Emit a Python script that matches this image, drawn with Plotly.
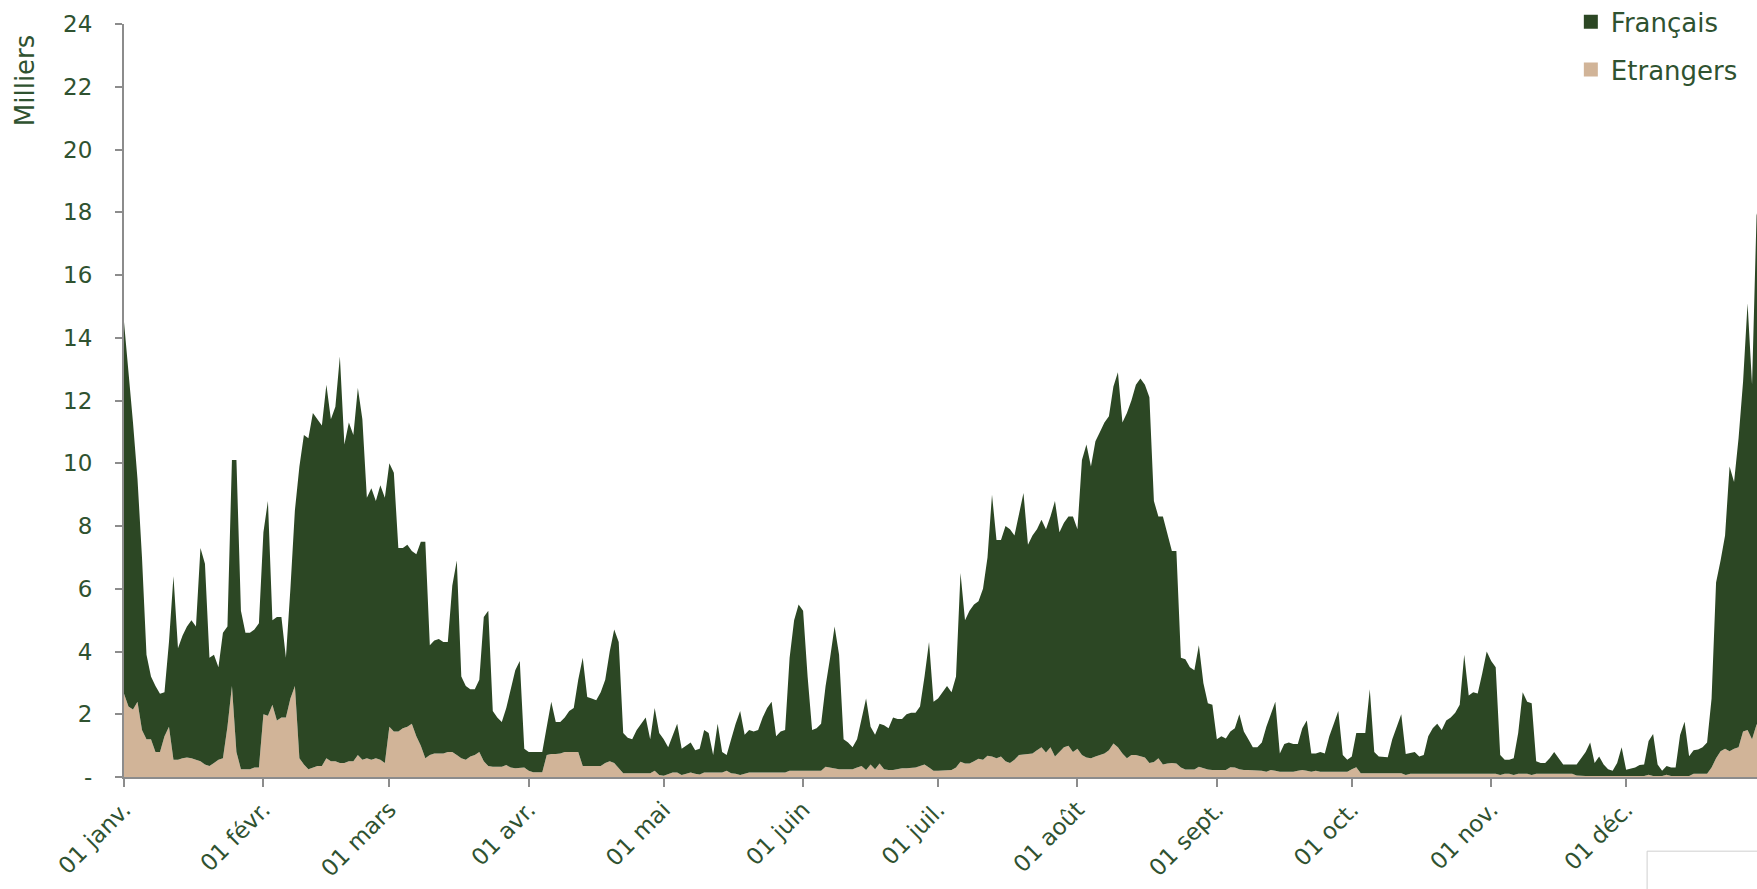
import pandas as pd
import plotly.graph_objects as go

# ---- data (milliers), one value per day of the year ----
francais = [
    11.85, 10.75, 9.15, 7.1, 5.5, 2.7, 2.0, 2.1, 1.85, 1.4,
    2.7, 5.85, 3.55, 3.9, 4.18, 4.4, 4.25, 6.8, 6.4, 3.45,
    3.45, 2.95, 4.0, 3.2, 7.2, 9.3, 5.05, 4.35, 4.35, 4.4,
    4.6, 5.8, 6.85, 2.7, 3.3, 3.2, 1.9, 3.5, 5.6, 9.3,
    10.5, 10.55, 11.3, 11.05, 10.85, 11.9, 10.9, 11.3, 12.95, 10.15,
    10.8, 10.4, 11.7, 10.85, 8.3, 8.65, 8.2, 8.75, 8.45, 8.4,
    8.25, 5.85, 5.75, 5.8, 5.5, 5.8, 6.5, 6.9, 3.5, 3.6,
    3.65, 3.55, 3.5, 5.3, 6.2, 2.6, 2.35, 2.15, 2.1, 2.3,
    4.6, 4.95, 1.77, 1.57, 1.42, 1.82, 2.5, 3.12, 3.42, 0.6,
    0.6, 0.65, 0.65, 0.65, 0.9, 1.67, 1.02, 1.0, 1.1, 1.3,
    1.4, 2.3, 3.45, 2.2, 2.15, 2.1, 2.35, 2.65, 3.5, 4.25,
    4.0, 1.28, 1.13, 1.08, 1.38, 1.58, 1.78, 1.08, 2.0, 1.34,
    1.16, 0.85, 1.16, 1.56, 0.84, 0.9, 0.96, 0.75, 0.82, 1.36,
    1.26, 0.56, 1.56, 0.66, 0.5, 1.08, 1.6, 2.04, 1.25, 1.36,
    1.31, 1.36, 1.76, 2.06, 2.26, 1.16, 1.31, 1.36, 3.6, 4.8,
    5.3, 5.1, 3.0, 1.3, 1.35, 1.5, 2.57, 3.5, 4.52, 3.65,
    0.95, 0.85, 0.7, 0.9, 1.55, 2.28, 1.2, 1.1, 1.27, 1.4,
    1.33, 1.68, 1.6, 1.57, 1.72, 1.75, 1.75, 1.9, 2.8, 4.0,
    2.2, 2.3, 2.5, 2.7, 2.48, 2.9, 6.01, 4.57, 4.87, 5.0,
    5.02, 5.45, 6.32, 8.35, 6.95, 6.9, 7.5, 7.45, 7.15, 7.7,
    8.33, 6.67, 6.95, 7.05, 7.25, 7.12, 7.35, 8.15, 7.0, 7.15,
    7.3, 7.5, 7.0, 9.4, 9.98, 9.3, 10.05, 10.3, 10.55, 10.65,
    11.38, 11.95, 10.55, 11.0, 11.3, 11.8, 12.03, 11.88, 11.65, 8.32,
    7.7, 7.9, 7.27, 6.75, 6.77, 3.5, 3.51, 3.26, 3.16, 3.87,
    2.72, 2.11, 2.08, 0.98, 1.08, 1.01, 1.14, 1.25, 1.75, 1.23,
    0.98, 0.73, 0.73, 0.9, 1.43, 1.78, 2.2, 0.58, 0.88, 0.93,
    0.88, 0.85, 1.33, 1.6, 0.58, 0.55, 0.63, 0.58, 1.13, 1.53,
    1.93, 0.53, 0.38, 0.4, 1.09, 1.28, 1.28, 2.68, 0.68, 0.53,
    0.51, 0.51, 1.08, 1.48, 1.88, 0.67, 0.67, 0.7, 0.55, 0.6,
    1.18, 1.43, 1.58, 1.38, 1.68, 1.78, 1.95, 2.2, 3.8, 2.5,
    2.6, 2.56, 3.2, 3.9, 3.6, 3.4, 0.64, 0.45, 0.45, 0.54,
    1.3, 2.6, 2.3, 2.29, 0.4, 0.35, 0.35, 0.5, 0.7, 0.5,
    0.3, 0.3, 0.3, 0.35, 0.57, 0.77, 1.07, 0.42, 0.62, 0.37,
    0.22, 0.17, 0.42, 0.92, 0.2, 0.24, 0.27, 0.35, 0.37, 1.08,
    1.34, 0.37, 0.17, 0.28, 0.27, 0.27, 1.31, 1.73, 0.63, 0.75,
    0.78, 0.85, 1.0, 2.2, 5.6, 6.08, 6.8, 9.08, 8.5, 9.85,
    11.15, 13.6, 11.3, 16.23, 16.9,
]

etrangers = [
    2.65, 2.25, 2.15, 2.4, 1.5, 1.2, 1.2, 0.8, 0.8, 1.3,
    1.6, 0.55, 0.55, 0.6, 0.62, 0.6, 0.55, 0.5, 0.4, 0.35,
    0.45, 0.55, 0.6, 1.6, 2.9, 0.8, 0.25, 0.25, 0.25, 0.3,
    0.3, 2.0, 1.95, 2.3, 1.8, 1.9, 1.9, 2.5, 2.9, 0.6,
    0.4, 0.25, 0.3, 0.35, 0.35, 0.6, 0.5, 0.5, 0.45, 0.45,
    0.5, 0.5, 0.7, 0.55, 0.6, 0.55, 0.6, 0.55, 0.45, 1.6,
    1.45, 1.45, 1.55, 1.6, 1.7, 1.3, 1.0, 0.6, 0.7, 0.75,
    0.75, 0.75, 0.8, 0.8, 0.7, 0.6, 0.55, 0.65, 0.7, 0.8,
    0.5, 0.35, 0.33, 0.33, 0.33, 0.38, 0.3, 0.28, 0.28, 0.3,
    0.2, 0.15, 0.15, 0.15, 0.7, 0.73, 0.73, 0.75, 0.8, 0.8,
    0.8, 0.8, 0.35, 0.35, 0.35, 0.35, 0.35, 0.45, 0.5, 0.45,
    0.3, 0.12, 0.12, 0.12, 0.12, 0.12, 0.12, 0.12, 0.2, 0.06,
    0.04, 0.1, 0.14, 0.14, 0.06, 0.1, 0.14, 0.1, 0.08, 0.14,
    0.14, 0.14, 0.14, 0.14, 0.2, 0.12, 0.1, 0.06, 0.1, 0.14,
    0.14, 0.14, 0.14, 0.14, 0.14, 0.14, 0.14, 0.14, 0.2, 0.2,
    0.2, 0.2, 0.2, 0.2, 0.2, 0.2, 0.33, 0.3, 0.28, 0.25,
    0.25, 0.25, 0.25, 0.3, 0.35, 0.22, 0.4, 0.25, 0.43, 0.25,
    0.22, 0.22, 0.25, 0.28, 0.28, 0.3, 0.3, 0.35, 0.4, 0.3,
    0.2, 0.2, 0.2, 0.2, 0.22, 0.3, 0.49, 0.43, 0.43, 0.5,
    0.58, 0.55, 0.68, 0.65, 0.6, 0.65, 0.5, 0.45, 0.55, 0.7,
    0.72, 0.73, 0.75, 0.85, 0.95, 0.78, 0.95, 0.65, 0.8, 0.95,
    1.0, 0.8, 0.9, 0.7, 0.62, 0.6, 0.65, 0.7, 0.75, 0.85,
    1.07, 0.95, 0.75, 0.6, 0.7, 0.7, 0.67, 0.62, 0.45, 0.48,
    0.6, 0.4, 0.43, 0.45, 0.43, 0.3, 0.24, 0.24, 0.24, 0.33,
    0.28, 0.24, 0.22, 0.22, 0.22, 0.22, 0.31, 0.3, 0.25, 0.22,
    0.22, 0.22, 0.22, 0.2, 0.17, 0.22, 0.2, 0.17, 0.17, 0.17,
    0.17, 0.2, 0.22, 0.2, 0.17, 0.2, 0.17, 0.17, 0.17, 0.17,
    0.17, 0.17, 0.17, 0.25, 0.31, 0.12, 0.12, 0.12, 0.12, 0.12,
    0.12, 0.12, 0.12, 0.12, 0.12, 0.06, 0.1, 0.1, 0.1, 0.1,
    0.12, 0.12, 0.12, 0.12, 0.12, 0.12, 0.1, 0.1, 0.1, 0.1,
    0.1, 0.1, 0.1, 0.1, 0.1, 0.1, 0.06, 0.1, 0.1, 0.06,
    0.1, 0.1, 0.1, 0.06, 0.1, 0.1, 0.1, 0.1, 0.1, 0.1,
    0.1, 0.1, 0.1, 0.05, 0.03, 0.03, 0.03, 0.03, 0.03, 0.03,
    0.03, 0.03, 0.03, 0.03, 0.03, 0.03, 0.03, 0.03, 0.03, 0.07,
    0.03, 0.03, 0.03, 0.07, 0.03, 0.03, 0.03, 0.03, 0.03, 0.1,
    0.1, 0.1, 0.1, 0.3, 0.6, 0.82, 0.9, 0.82, 0.9, 0.95,
    1.45, 1.5, 1.2, 1.67, 1.7,
]

dates = pd.date_range("2019-01-01", periods=len(francais), freq="D")

month_ticks = pd.date_range("2019-01-01", periods=12, freq="MS")
month_labels = ["01 janv.", "01 févr.", "01 mars", "01 avr.", "01 mai", "01 juin",
                "01 juil.", "01 août", "01 sept.", "01 oct.", "01 nov.", "01 déc."]

y_ticks = list(range(0, 25, 2))
y_labels = ["-"] + [str(v) for v in y_ticks[1:]]

GREEN = "#2c4724"
TAN = "#d1b498"
TEXT = "#2f5230"
AXIS = "#8c8c8c"
FONT = "DejaVu Sans"

fig = go.Figure()
fig.add_trace(go.Scatter(x=dates, y=etrangers, name="Etrangers", stackgroup="one",
                         mode="lines", line=dict(width=0, color=TAN), fillcolor=TAN,
                         showlegend=False))
fig.add_trace(go.Scatter(x=dates, y=francais, name="Français", stackgroup="one",
                         mode="lines", line=dict(width=0, color=GREEN), fillcolor=GREEN,
                         showlegend=False))
# legend entries (square swatches)
fig.add_trace(go.Scatter(x=[None], y=[None], mode="markers", name="Français",
                         marker=dict(symbol="square", size=14, color=GREEN),
                         legendgroup="a"))
fig.add_trace(go.Scatter(x=[None], y=[None], mode="markers", name="Etrangers",
                         marker=dict(symbol="square", size=14, color=TAN),
                         legendgroup="b"))

fig.update_layout(
    width=1757, height=889,
    margin=dict(l=124, r=0, t=24, b=112, autoexpand=False),
    paper_bgcolor="white", plot_bgcolor="white",
    font=dict(family=FONT, color=TEXT, size=23),
    showlegend=True,
    legend=dict(x=0.886, y=1.034, xanchor="left", yanchor="top",
                traceorder="grouped", tracegroupgap=11,
                font=dict(family=FONT, size=26, color=TEXT),
                bgcolor="rgba(0,0,0,0)"),
    hovermode=False,
    xaxis=dict(
        type="date",
        range=["2019-01-01", "2019-12-30 02:24"],
        tickmode="array", tickvals=month_ticks, ticktext=month_labels,
        tickangle=-45, ticks="outside", ticklen=8, tickwidth=2, tickcolor=AXIS,
        showline=True, linecolor=AXIS, linewidth=2,
        showgrid=False, zeroline=False,
        tickfont=dict(family=FONT, size=23, color=TEXT),
    ),
    yaxis=dict(
        range=[0, 24],
        tickmode="array", tickvals=y_ticks, ticktext=y_labels,
        ticks="outside", ticklen=7, tickwidth=2, tickcolor=AXIS,
        showline=True, linecolor=AXIS, linewidth=2,
        showgrid=False, zeroline=False,
        ticklabelstandoff=18,
        tickfont=dict(family=FONT, size=23, color=TEXT),
    ),
    annotations=[dict(
        text="Milliers", textangle=-90, showarrow=False,
        xref="paper", yref="paper", x=-0.0605, y=0.9256,
        xanchor="center", yanchor="middle",
        font=dict(family=FONT, size=26, color=TEXT),
    )],
    shapes=[dict(type="rect", xref="paper", yref="paper",
                 x0=0.9327, x1=1.02, y0=-0.16, y1=-0.0985,
                 line=dict(color="#cfcfcf", width=1), fillcolor="rgba(0,0,0,0)")],
)

fig.write_html("out.html",
               config={"displayModeBar": False, "staticPlot": True},
               post_script="document.body.style.margin='0';document.body.style.overflow='hidden';")
